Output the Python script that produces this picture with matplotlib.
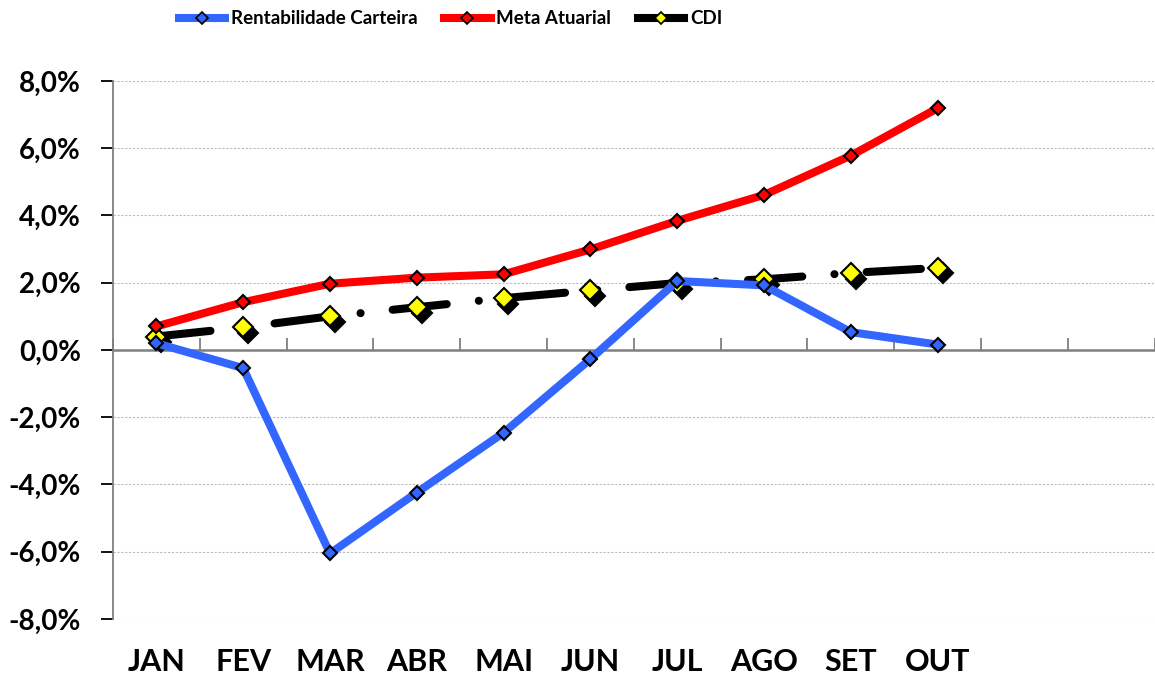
import numpy as np
import matplotlib
matplotlib.use('Agg')
from matplotlib import pyplot as plt
from matplotlib.transforms import offset_copy
from matplotlib.ticker import FuncFormatter
from matplotlib.lines import Line2D

plt.rcParams['font.family'] = ['Lato', 'DejaVu Sans']
plt.rcParams['font.weight'] = 'bold'

meses = ['JAN', 'FEV', 'MAR', 'ABR', 'MAI', 'JUN', 'JUL', 'AGO', 'SET', 'OUT']
n_slots = 12
carteira = [0.2, -0.54, -6.05, -4.24, -2.46, -0.27, 2.05, 1.92, 0.53, 0.16]
meta = [0.70, 1.42, 1.97, 2.15, 2.25, 2.99, 3.84, 4.61, 5.78, 7.19]
cdi = [0.40, 0.67, 1.00, 1.27, 1.54, 1.77, 1.99, 2.10, 2.29, 2.44]

fig = plt.figure(figsize=(11.55, 6.8), dpi=100)
ax = fig.add_axes([0.0978, 0.0897, 0.902, 0.7913])

x = np.arange(len(meses))
lw = 5.8

# linha do zero
ax.axhline(0, color='#808080', lw=1.8, zorder=2)

# CDI: traco-ponto preto, losangos amarelos com sombra preta
ax.plot(x, cdi, color='black', lw=lw, dashes=(6.75, 4, 0.01, 4),
        dash_capstyle='round', solid_capstyle='round', zorder=3)
sh = offset_copy(ax.transData, fig=fig, x=3.5, y=-4, units='points')
ax.plot(x, cdi, ls='none', marker='D', ms=10, color='black', mec='black',
        mew=1.5, transform=sh, zorder=4)
ax.plot(x, cdi, ls='none', marker='D', ms=10, mfc='#FFFF00', mec='black',
        mew=1.5, zorder=5)

ax.plot(x, meta, color='#FF0000', lw=lw, marker='D', ms=7.5, mfc='#FF0000',
        mec='black', mew=1.5, zorder=6, solid_capstyle='round')
ax.plot(x, carteira, color='#3366FF', lw=lw, marker='D', ms=7.5, mfc='#3366FF',
        mec='black', mew=1.5, zorder=7, solid_capstyle='round')

ax.set_xlim(-0.5, n_slots - 0.5)
ax.set_ylim(-8, 8)
ax.set_yticks(np.arange(-8, 9, 2))
ax.yaxis.set_major_formatter(FuncFormatter(lambda v, p: ('%.1f%%' % v).replace('.', ',')))
ax.yaxis.grid(True, color='#BBBBBB', ls=(0, (2, 1.5)), lw=0.8)
ax.set_axisbelow(True)
ax.tick_params(axis='y', length=9, width=1.3, color='black', labelsize=20, pad=14)

ax.set_xticks(x)
ax.set_xticklabels(meses, fontsize=22)
ax.tick_params(axis='x', length=0, pad=21)

for s in ['top', 'right', 'bottom']:
    ax.spines[s].set_visible(False)
ax.spines['left'].set_color('#808080')
ax.spines['left'].set_linewidth(1.3)

# ticks de categoria no eixo zero
sec = ax.secondary_xaxis(0.5)
sec.set_xticks(np.arange(-0.5, n_slots, 1.0))
sec.set_xticklabels([])
for s in sec.spines.values():
    s.set_visible(False)
sec.tick_params(axis='x', length=9, width=1.3, color='#808080', direction='out')

# legenda
h1 = Line2D([], [], color='#3366FF', lw=lw, marker='D', ms=6, mfc='#3366FF', mec='black', mew=1.2)
h2 = Line2D([], [], color='#FF0000', lw=lw, marker='D', ms=6, mfc='#FF0000', mec='black', mew=1.2)
h3 = Line2D([], [], color='black', lw=lw, marker='D', ms=6, mfc='#FFFF00', mec='black', mew=1.2)
fig.legend([h1, h2, h3], ['Rentabilidade Carteira', 'Meta Atuarial', 'CDI'],
           loc='upper center', bbox_to_anchor=(0.39, 1.01), ncol=3, frameon=False,
           prop={'size': 13.5, 'weight': 'bold'}, handlelength=2.5, handletextpad=0.3,
           columnspacing=1.4)

fig.savefig('out.png', dpi=100)
